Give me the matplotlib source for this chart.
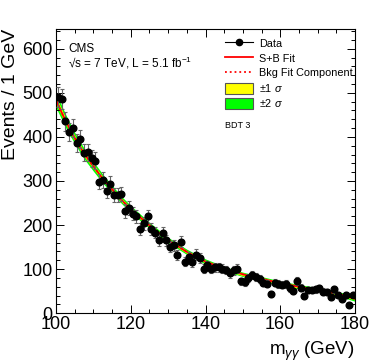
import numpy as np
import matplotlib
matplotlib.use("Agg")
import matplotlib.pyplot as plt
from matplotlib.lines import Line2D
from matplotlib.patches import Patch

plt.rcParams['font.family'] = ['Liberation Sans', 'DejaVu Sans']
plt.rcParams['mathtext.fontset'] = 'custom'
plt.rcParams['mathtext.rm'] = 'Liberation Sans'
plt.rcParams['mathtext.it'] = 'Liberation Sans:italic'

# data: bin centres and events per 1 GeV
mass = np.arange(100.5, 180.0, 1.0)
events = [490, 486, 435, 411, 420, 386, 395, 364, 365, 351,
          346, 298, 302, 277, 294, 268, 268, 270, 232, 239,
          226, 220, 191, 204, 220, 190, 183, 166, 181, 165,
          151, 154, 131, 162, 117, 128, 115, 133, 126, 101,
          109, 100, 104, 104, 101, 98, 90, 97, 101, 72,
          71, 80, 86, 82, 77, 69, 67, 43, 69, 66,
          64, 66, 56, 51, 73, 58, 40, 53, 53, 54,
          56, 49, 48, 36, 54, 42, 33, 42, 19, 42]

# fit curve
fit_mass = [100, 102.5, 105, 107.5, 110, 112.5, 115, 117.5, 120, 125, 130, 135,
            140, 145, 150, 155, 160, 165, 170, 175, 180]
fit_sb = [483, 437, 397, 362, 333, 305, 281, 257, 236, 199, 166, 139,
          117, 101, 88, 78, 68, 60, 53, 45, 33]
band1 = [8, 7, 6, 6, 5, 5, 4, 4, 4, 3, 3, 3, 3, 3, 3, 3, 3, 3, 3, 3, 3]
band2 = [17, 15, 13, 12, 11, 10, 9, 8, 8, 7, 6, 6, 6, 5, 5, 5, 5, 5, 5, 5, 6]

fit_sb = np.array(fit_sb)
band1 = np.array(band1)
band2 = np.array(band2)
errs = np.sqrt(events)

fig = plt.figure(figsize=(3.74, 3.62), dpi=100)
ax = fig.add_axes([0.15, 0.135, 0.799, 0.785])

ax.fill_between(fit_mass, fit_sb - band2, fit_sb + band2, color='#00ff00', lw=0)
ax.fill_between(fit_mass, fit_sb - band1, fit_sb + band1, color='#ffff00', lw=0)
ax.plot(fit_mass, fit_sb, color='red', lw=1.3)
ax.plot(fit_mass, fit_sb, color='red', lw=1.3, ls=':')
ax.errorbar(mass, events, yerr=errs, fmt='o', color='black', ms=4.8,
            ecolor='#666666', elinewidth=0.8, capsize=1.2, capthick=0.8, zorder=5)

ax.set_xlim(100, 180)
ax.set_ylim(0, 645)
ax.set_xticks([100, 120, 140, 160, 180])
ax.set_xticks(np.arange(100, 181, 5), minor=True)
ax.set_yticks(np.arange(0, 601, 100))
ax.set_yticks(np.arange(0, 641, 20), minor=True)
ax.tick_params(which='both', direction='in', top=True, right=True, labelsize=13)
ax.tick_params(which='major', length=5.5, width=0.7)
ax.tick_params(which='minor', length=2.8, width=0.7)
ax.tick_params(axis='x', pad=2)
ax.tick_params(axis='y', pad=2.5)
for s in ax.spines.values():
    s.set_linewidth(0.8)

ax.set_ylabel('Events / 1 GeV', fontsize=14, loc='top', labelpad=2)
ax.set_xlabel(r'm$_{\gamma\gamma}$ (GeV)', fontsize=13.5, loc='right', labelpad=5)

ax.text(0.04, 0.93, 'CMS', transform=ax.transAxes, fontsize=8.5, va='center')
ax.text(0.04, 0.88, '√s = 7 TeV, L = 5.1 fb$^{-1}$', transform=ax.transAxes,
        fontsize=8.5, va='center')
ax.text(0.565, 0.66, 'BDT 3', transform=ax.transAxes, fontsize=6.5, va='center')

handles = [
    Line2D([], [], color='black', marker='o', ms=4.5, lw=0.8),
    Line2D([], [], color='red', lw=1.3),
    Line2D([], [], color='red', lw=1.3, ls=':'),
    Patch(facecolor='#ffff00', edgecolor='#555555', lw=0.8),
    Patch(facecolor='#00ff00', edgecolor='#555555', lw=0.8),
]
labels = ['Data', 'S+B Fit', 'Bkg Fit Component', r'$\pm$1 $\sigma$', r'$\pm$2 $\sigma$']
ax.legend(handles, labels, loc='upper left', bbox_to_anchor=(0.55, 0.985),
          frameon=False, fontsize=7.8, handlelength=2.6, handleheight=1.2,
          labelspacing=0.33, handletextpad=0.6, borderaxespad=0)

fig.savefig('out.png', dpi=100)
